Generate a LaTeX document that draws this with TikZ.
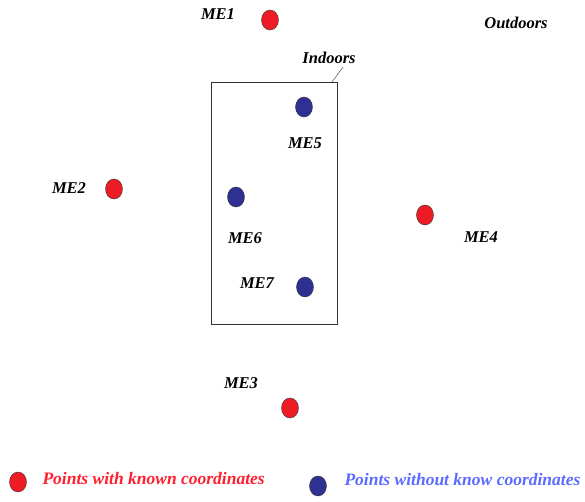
\documentclass[tikz,border=0pt]{standalone}
\usepackage{xcolor}
\usepackage{fontspec}
\usepackage{tikz}
\usetikzlibrary{shapes.geometric, positioning}
\setmainfont{Liberation Serif}
\definecolor{knownred}{HTML}{ED1C24}
\definecolor{unknownblue}{HTML}{2E3192}
\definecolor{legendred}{HTML}{FF1F2F}
\definecolor{legendblue}{HTML}{5B6BFF}
\definecolor{darkgray}{HTML}{333333}
\tikzset{
  known/.style={
    ellipse, draw=darkgray, thin,
    minimum width=17pt, minimum height=20pt,
    inner sep=0pt, fill=knownred,
  },
  unknown/.style={
    ellipse, draw=darkgray, thin,
    minimum width=17pt, minimum height=20pt,
    inner sep=0pt, fill=unknownblue,
  },
  melabel/.style={font=\fontsize{16.5}{18}\selectfont\bfseries\itshape},
  legendtext/.style={font=\fontsize{17.5}{19}\selectfont\bfseries\itshape, anchor=west},
}

\begin{document}
\begin{tikzpicture}[x=1pt, y=-1pt]
  \useasboundingbox (0,0) rectangle (585,502);

  % Indoor area
  \node[draw=darkgray, thick, minimum width=126pt, minimum height=242pt, inner sep=0pt] (room) at (274,203) {};
  \node[melabel] (indoors) at (329,58) {Indoors};
  \coordinate (tick) at (343,67);
  \coordinate (roomtop) at (332,82);
  \draw[darkgray] (tick) -- (roomtop);

  \node[melabel] (outdoors) at (516,23) {Outdoors};

  % Points with known coordinates
  \node[known] (me1) at (270,20) {};
  \node[known] (me2) at (114,189) {};
  \node[known] (me3) at (290,408) {};
  \node[known] (me4) at (425,215) {};

  % Points without known coordinates
  \node[unknown] (me5) at (304,107) {};
  \node[unknown] (me6) at (236,197) {};
  \node[unknown] (me7) at (305,287) {};

  % Labels
  \node[melabel] (l1) at (218,14) {ME1};
  \node[melabel] (l2) at (69,188) {ME2};
  \node[melabel] (l3) at (241,383) {ME3};
  \node[melabel] (l4) at (481,237) {ME4};
  \node[melabel] (l5) at (305,143) {ME5};
  \node[melabel] (l6) at (245,238) {ME6};
  \node[melabel] (l7) at (257,283) {ME7};

  % Legend
  \node[known] (keyknown) at (18,482) {};
  \node[legendtext, text=legendred] (txtknown) at (39,479) {Points with known coordinates};
  \node[unknown] (keyunknown) at (318,486) {};
  \node[legendtext, text=legendblue] (txtunknown) at (341,480) {Points without know coordinates};

\end{tikzpicture}
\end{document}
